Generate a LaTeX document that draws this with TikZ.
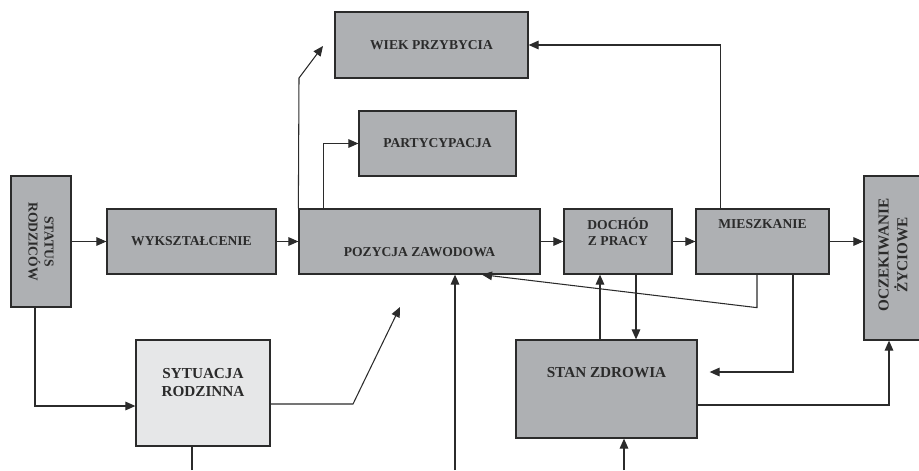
\documentclass[tikz,border=0pt]{standalone}
\usepackage{fontspec}
\setmainfont{Liberation Serif}
\usetikzlibrary{arrows.meta,calc}
\definecolor{boxgray}{HTML}{AEB0B3}
\definecolor{boxlight}{HTML}{E6E7E8}
\definecolor{edge}{HTML}{2B2B2B}

\begin{document}
\begin{tikzpicture}[
  box/.style={draw=edge, fill=boxgray, line width=1.1pt, inner sep=0pt},
  txt/.style={font=\bfseries\fontsize{11.6}{13.7}\selectfont, align=center, text=edge},
  bigtxt/.style={font=\bfseries\fontsize{13}{16}\selectfont, align=center, text=edge},
  arr/.style={draw=edge, line width=0.9pt, -{Triangle[length=3mm,width=2.6mm]}},
  link/.style={draw=edge, line width=0.9pt}
]
  \useasboundingbox (0,0) rectangle (27.57,14.1);
  % \draw[step=1.0,thin,gray!40] (0,0) grid (28,14);

  \node[box, minimum width=1.8cm, minimum height=3.93cm,
        label={[name=statusText, txt, rotate=-90]center:STATUS\\RODZICÓW}] (status) at (1.23,6.855) {};
  \node[box, txt, minimum width=5.07cm, minimum height=1.95cm] (wyksz) at (5.745,6.855) {WYKSZTAŁCENIE};
  \node[box, minimum width=7.23cm, minimum height=1.95cm,
        label={[name=pozycjaText, txt, yshift=-0.315cm]center:POZYCJA ZAWODOWA}] (pozycja) at (12.585,6.855) {};
  \node[box, txt, minimum width=5.79cm, minimum height=1.98cm] (wiek) at (12.945,12.75) {WIEK PRZYBYCIA};
  \node[box, txt, minimum width=4.71cm, minimum height=1.95cm] (party) at (13.125,9.795) {PARTYCYPACJA};
  \node[box, minimum width=3.24cm, minimum height=1.95cm,
        label={[name=dochodText, txt, yshift=0.285cm]center:DOCHÓD\\Z PRACY}] (dochod) at (18.54,6.855) {};
  \node[box, minimum width=3.99cm, minimum height=1.95cm,
        label={[name=mieszkText, txt, yshift=0.525cm]center:MIESZKANIE}] (mieszk) at (22.875,6.855) {};
  \node[box, minimum width=1.74cm, minimum height=4.92cm,
        label={[name=oczekText, bigtxt, rotate=90, xshift=0.09cm]center:OCZEKIWANIE\\ŻYCIOWE}] (oczek) at (26.79,6.36) {};
  \node[box, minimum width=5.43cm, minimum height=2.94cm,
        label={[name=stanText, bigtxt, yshift=0.48cm]center:STAN ZDROWIA}] (stan) at (18.195,2.43) {};
  \node[box, fill=boxlight, minimum width=4.02cm, minimum height=3.18cm,
        label={[name=sytuacjaText, bigtxt, yshift=0.315cm]center:SYTUACJA\\RODZINNA}] (sytuacja) at (6.09,2.31) {};

  \coordinate (sytBend) at (10.59,1.98);
  \coordinate (pozIn) at (12.0,4.89);
  \coordinate (wiekBend) at (8.97,11.76);
  \coordinate (wiekIn) at (9.69,12.72);
  \coordinate (sytBottom) at (5.76,0);
  \coordinate (pozBottom) at (13.65,0);
  \coordinate (stanBottom) at (18.72,0);

  \draw[arr] (status) -- (wyksz);
  \draw[arr] (wyksz) -- (pozycja);
  \draw[arr] (pozycja) -- (dochod);
  \draw[arr] (dochod) -- (mieszk);
  \draw[arr] (mieszk.east) -- (mieszk.east -| oczek.west);

  \draw[arr] ([xshift=-0.18cm]status.south) |- ([yshift=-0.39cm]sytuacja.west);
  \draw[arr] ([yshift=-0.33cm]sytuacja.east) -- (sytBend) -- (pozIn);
  \draw[link] (sytBottom) -- (sytBottom |- sytuacja.south);
  \draw[arr] (pozBottom) -- (pozBottom |- pozycja.south);
  \draw[arr] (stanBottom) -- (stanBottom |- stan.south);

  \draw[arr] (pozycja.north west) -- (wiekBend) -- (wiekIn);
  \draw[arr] ([xshift=0.75cm]pozycja.north west) |- (party.west);
  \draw[arr] ([xshift=0.75cm]mieszk.north west) |- (wiek.east);

  \draw[arr] ([xshift=-0.54cm]dochod.south |- stan.north) -- ([xshift=-0.54cm]dochod.south);
  \draw[arr] ([xshift=0.54cm]dochod.south) -- ([xshift=0.54cm]dochod.south |- stan.north);
  \draw[arr] ([xshift=-0.165cm]mieszk.south) -- ++(0,-0.99) -- ([xshift=1.875cm]pozycja.south);
  \draw[arr] ([xshift=0.915cm]mieszk.south) |- ([shift={(0.36cm,0.51cm)}]stan.east);
  \draw[arr] ([yshift=-0.48cm]stan.east) -| ([xshift=-0.12cm]oczek.south);
\end{tikzpicture}
\end{document}
